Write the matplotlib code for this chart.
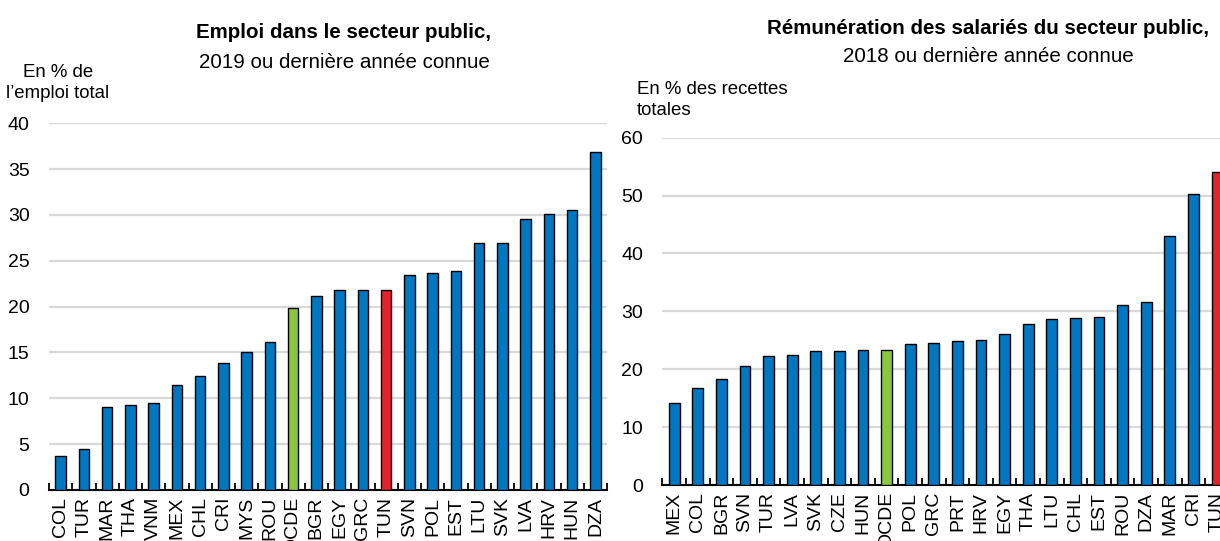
# -*- coding: utf-8 -*-
import numpy as np
import matplotlib
matplotlib.use('Agg')
import matplotlib.pyplot as plt
from matplotlib import rcParams

rcParams['font.family'] = ['Liberation Sans', 'DejaVu Sans']

# Emploi dans le secteur public (% de l'emploi total)
pays_emploi = ['COL', 'TUR', 'MAR', 'THA', 'VNM', 'MEX', 'CHL', 'CRI', 'MYS', 'ROU',
               'OCDE', 'BGR', 'EGY', 'GRC', 'TUN', 'SVN', 'POL', 'EST', 'LTU', 'SVK',
               'LVA', 'HRV', 'HUN', 'DZA']
val_emploi = [3.7, 4.5, 9.1, 9.3, 9.5, 11.5, 12.4, 13.9, 15.1, 16.1,
              19.8, 21.2, 21.8, 21.8, 21.8, 23.5, 23.7, 23.9, 26.9, 26.9,
              29.6, 30.1, 30.5, 36.9]

# Rémunération des salariés du secteur public (% des recettes totales)
pays_remun = ['MEX', 'COL', 'BGR', 'SVN', 'TUR', 'LVA', 'SVK', 'CZE', 'HUN', 'OCDE',
              'POL', 'GRC', 'PRT', 'HRV', 'EGY', 'THA', 'LTU', 'CHL', 'EST', 'ROU',
              'DZA', 'MAR', 'CRI', 'TUN']
val_remun = [14.2, 16.8, 18.3, 20.5, 22.2, 22.5, 23.1, 23.2, 23.4, 23.4,
             24.4, 24.5, 24.8, 25.1, 26.1, 27.8, 28.7, 28.8, 29.1, 31.1,
             31.6, 43.1, 50.3, 54.0]

BLEU = '#0077C0'
VERT = '#8CC63F'
ROUGE = '#E1242B'
GRILLE = '#D9D9D9'
FS_TICK = 14
FS_TITRE = 14.8
FS_UNITE = 13.4

W, H = 1220, 541


def couleurs(pays):
    out = []
    for p in pays:
        if p == 'OCDE':
            out.append(VERT)
        elif p == 'TUN':
            out.append(ROUGE)
        else:
            out.append(BLEU)
    return out


def panneau(ax, pays, valeurs, ymax, pas):
    x = np.arange(len(pays))
    ax.bar(x, valeurs, width=0.45, color=couleurs(pays), edgecolor='black',
           linewidth=1.0, zorder=3)
    ax.set_xlim(-0.5, len(pays) - 0.5)
    ax.set_ylim(0, ymax)
    ax.set_yticks(np.arange(0, ymax + 1, pas))
    ax.yaxis.grid(True, color=GRILLE, linewidth=1.6, zorder=0)
    ax.set_axisbelow(True)
    for s in ['left', 'right', 'top']:
        ax.spines[s].set_visible(False)
    ax.spines['bottom'].set_linewidth(1.5)
    ax.set_xticks(x)
    ax.set_xticklabels(pays, rotation=90, fontsize=FS_TICK, va='top', ha='center')
    ax.set_xticks(np.arange(-0.5, len(pays), 1.0), minor=True)
    ax.tick_params(axis='x', which='major', length=0, pad=5)
    ax.tick_params(axis='x', which='minor', direction='in', length=5, width=1.3)
    ax.tick_params(axis='y', length=0, pad=14, labelsize=FS_TICK)


fig = plt.figure(figsize=(W / 100, H / 100), dpi=100)

ax1 = fig.add_axes([49 / W, (H - 490) / H, 558 / W, 366.7 / H])
panneau(ax1, pays_emploi, val_emploi, 40, 5)

ax2 = fig.add_axes([662.4 / W, (H - 485) / H, 566.4 / W, 347.3 / H])
panneau(ax2, pays_remun, val_remun, 60, 10)


def txt(x, y, s, fs, **kw):
    fig.text(x / W, 1 - y / H, s, fontsize=fs, va='center', **kw)


# titres
txt(344, 32, 'Emploi dans le secteur public,', FS_TITRE, ha='center', fontweight='bold')
txt(344, 62, '2019 ou dernière année connue', FS_TITRE, ha='center')
txt(988, 28, 'Rémunération des salariés du secteur public,', FS_TITRE, ha='center',
    fontweight='bold')
txt(988, 57, '2018 ou dernière année connue', FS_TITRE, ha='center')

# unités
txt(58, 83, 'En % de\nl’emploi total', FS_UNITE, ha='center', linespacing=1.25)
txt(637, 100, 'En % des recettes\ntotales', FS_UNITE, ha='left', linespacing=1.25)

fig.savefig('out.png', dpi=100)
